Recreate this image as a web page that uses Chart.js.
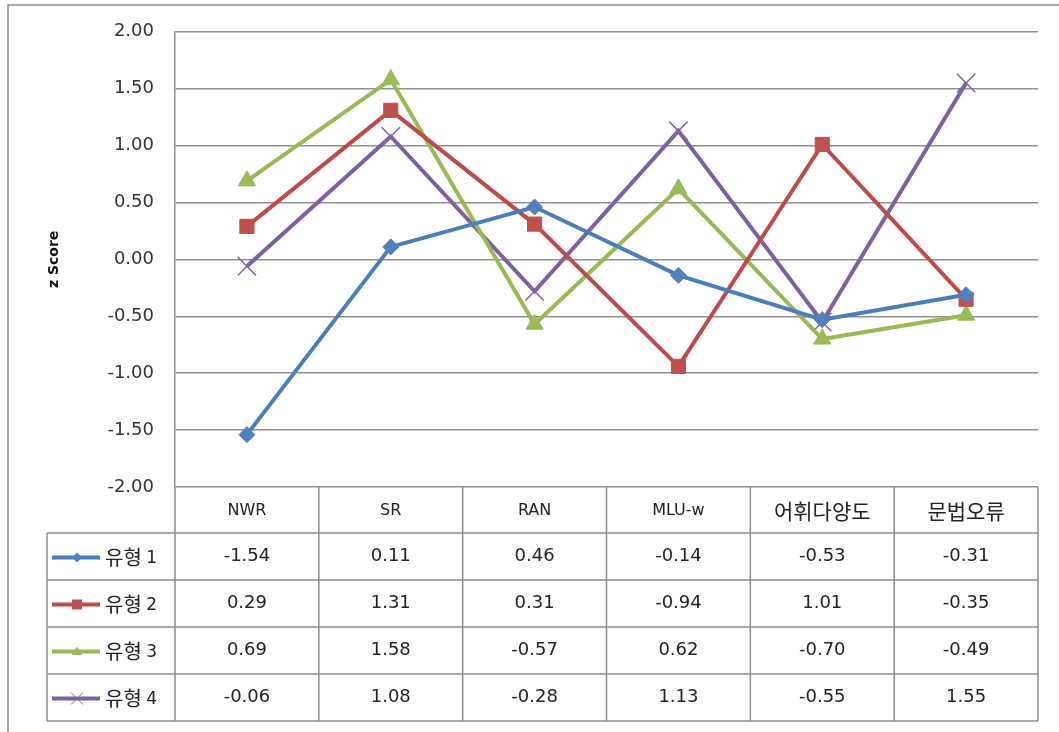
<!DOCTYPE html>
<html>
<head>
<meta charset="utf-8">
<script src="https://cdn.jsdelivr.net/npm/chart.js@4/dist/chart.umd.min.js"></script>
<style>
  html, body { margin: 0; padding: 0; background: #fff; }
  canvas { display: block; }
</style>
</head>
<body>
<canvas id="chart" width="1059" height="732"></canvas>
<script>
// chart values
const categories = ['NWR', 'SR', 'RAN', 'MLU-w', '어휘다양도', '문법오류'];
const seriesNames = ['유형 1', '유형 2', '유형 3', '유형 4'];
const type1 = [-1.54, 0.11, 0.46, -0.14, -0.53, -0.31];
const type2 = [0.29, 1.31, 0.31, -0.94, 1.01, -0.35];
const type3 = [0.69, 1.58, -0.57, 0.62, -0.70, -0.49];
const type4 = [-0.06, 1.08, -0.28, 1.13, -0.55, 1.55];
const yMin = -2, yMax = 2, yStep = 0.5;

const GRID = '#8f8f8f';
const NUM_FONT = "'DejaVu Sans', 'Noto Sans CJK KR', sans-serif";
const KR_FONT = "'Noto Sans CJK KR', 'DejaVu Sans', sans-serif";

const styles = [
  { line: '#4A7EBB', fill: '#4F81BD', shape: 'rectRot', radius: 8 },
  { line: '#BE4B48', fill: '#C0504D', shape: 'rect', radius: 10 },
  { line: '#98B954', fill: '#9BBB59', shape: 'triangle', radius: 10 },
  { line: '#7D60A0', fill: '#8064A2', shape: 'crossRot', radius: 13 }
];
const allSeries = [type1, type2, type3, type4];

// small markers for the legend cells of the table
function drawMarker(ctx, shape, x, y, r, color) {
  ctx.save();
  ctx.fillStyle = color;
  ctx.strokeStyle = color;
  ctx.beginPath();
  if (shape === 'rectRot') {
    ctx.moveTo(x, y - r); ctx.lineTo(x + r, y); ctx.lineTo(x, y + r); ctx.lineTo(x - r, y);
    ctx.closePath(); ctx.fill();
  } else if (shape === 'rect') {
    ctx.rect(x - r, y - r, 2 * r, 2 * r); ctx.fill();
  } else if (shape === 'triangle') {
    ctx.moveTo(x, y - r); ctx.lineTo(x + r, y + r * 0.7); ctx.lineTo(x - r, y + r * 0.7);
    ctx.closePath(); ctx.fill();
  } else {
    ctx.lineWidth = 1;
    ctx.moveTo(x - r, y - r); ctx.lineTo(x + r, y + r);
    ctx.moveTo(x + r, y - r); ctx.lineTo(x - r, y + r);
    ctx.stroke();
  }
  ctx.restore();
}

const framePlugin = {
  id: 'frame',
  beforeDraw(chart) {
    const ctx = chart.ctx;
    ctx.save();
    ctx.strokeStyle = '#8a8a8a';
    ctx.lineWidth = 1.5;
    ctx.beginPath();
    ctx.moveTo(8, 732); ctx.lineTo(8, 5); ctx.lineTo(1059, 5);
    ctx.stroke();
    ctx.restore();
  }
};

const tablePlugin = {
  id: 'dataTable',
  afterDraw(chart) {
    const { ctx, chartArea: a } = chart;
    const colW = (a.right - a.left) / categories.length;
    const headTop = a.bottom;
    const headH = 46;
    const rowH = 47;
    const legLeft = 47;
    const bottom = headTop + headH + rowH * seriesNames.length;

    ctx.save();
    ctx.strokeStyle = GRID;
    ctx.lineWidth = 1.5;
    ctx.beginPath();
    for (let r = 0; r <= seriesNames.length; r++) {
      const y = headTop + headH + r * rowH;
      ctx.moveTo(legLeft, y); ctx.lineTo(a.right, y);
    }
    for (let i = 0; i <= categories.length; i++) {
      const x = a.left + i * colW;
      ctx.moveTo(x, headTop); ctx.lineTo(x, bottom);
    }
    ctx.moveTo(legLeft, headTop + headH); ctx.lineTo(legLeft, bottom);
    ctx.stroke();

    ctx.fillStyle = '#222';
    ctx.textAlign = 'center';
    ctx.textBaseline = 'middle';
    const xs = chart.scales.x;
    categories.forEach((c, i) => {
      const kr = /[\uac00-\ud7a3]/.test(c);
      ctx.font = kr ? '21px ' + KR_FONT : '16px ' + NUM_FONT;
      ctx.fillText(c, xs.getPixelForValue(i), headTop + headH / 2 + 1);
    });

    ctx.font = '18px ' + NUM_FONT;
    allSeries.forEach((vals, r) => {
      const cy = headTop + headH + r * rowH + rowH / 2;
      vals.forEach((v, i) => {
        ctx.fillText(v.toFixed(2), xs.getPixelForValue(i), cy);
      });
    });

    // legend cells
    ctx.textAlign = 'left';
    seriesNames.forEach((name, r) => {
      const cy = headTop + headH + r * rowH + rowH / 2 + 1;
      const st = styles[r];
      ctx.save();
      ctx.strokeStyle = st.line;
      ctx.lineWidth = 4;
      ctx.beginPath();
      ctx.moveTo(52, cy); ctx.lineTo(100, cy);
      ctx.stroke();
      ctx.restore();
      drawMarker(ctx, st.shape, 77, cy, st.shape === 'crossRot' ? 6 : 5, st.fill);
      const parts = name.split(' ');
      ctx.fillStyle = '#222';
      ctx.font = '20px ' + KR_FONT;
      ctx.fillText(parts[0], 105, cy);
      const w = ctx.measureText(parts[0] + ' ').width;
      ctx.font = '17px ' + NUM_FONT;
      ctx.fillText(parts[1], 105 + w, cy + 1);
    });
    ctx.restore();
  }
};

new Chart(document.getElementById('chart'), {
  type: 'line',
  data: {
    labels: categories,
    datasets: allSeries.map((vals, i) => ({
      label: seriesNames[i],
      data: vals,
      borderColor: styles[i].line,
      backgroundColor: styles[i].fill,
      pointBorderColor: styles[i].fill,
      pointBackgroundColor: styles[i].fill,
      pointStyle: styles[i].shape,
      pointRadius: styles[i].radius,
      pointBorderWidth: styles[i].shape === 'crossRot' ? 1.5 : 1,
      borderWidth: 4,
      tension: 0,
      fill: false
    }))
  },
  options: {
    responsive: false,
    devicePixelRatio: 1,
    animation: false,
    layout: { padding: { top: 30, right: 21, bottom: 245, left: 0 } },
    plugins: {
      legend: { display: false },
      tooltip: { enabled: false }
    },
    scales: {
      x: {
        type: 'category',
        offset: true,
        display: false
      },
      y: {
        min: yMin,
        max: yMax,
        afterFit: (scale) => { scale.width = 175; },
        ticks: {
          stepSize: yStep,
          padding: 21,
          color: '#333',
          font: { family: NUM_FONT, size: 18 },
          callback: (v) => Number(v).toFixed(2)
        },
        grid: { color: GRID, lineWidth: 1.5, drawTicks: false },
        border: { color: GRID, width: 1.5 },
        title: {
          display: true,
          text: 'z Score',
          color: '#111',
          font: { family: NUM_FONT, size: 14, weight: 'bold' },
          padding: { top: 46, bottom: 0 }
        }
      }
    }
  },
  plugins: [framePlugin, tablePlugin]
});
</script>
</body>
</html>
